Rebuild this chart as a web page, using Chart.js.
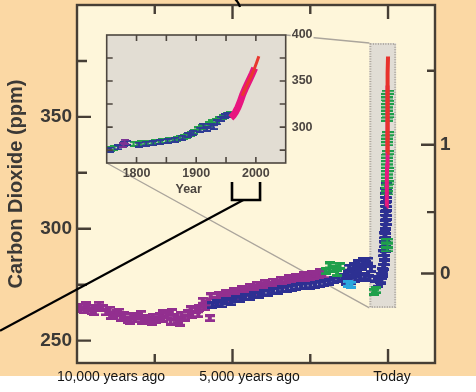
<!DOCTYPE html>
<html>
<head>
<meta charset="utf-8">
<script src="https://cdn.jsdelivr.net/npm/chart.js@4/dist/chart.umd.min.js"></script>
<style>
html,body{margin:0;padding:0;background:#ffffff;}
#wrap{position:relative;width:476px;height:392px;overflow:hidden;}
#wrap canvas{position:absolute;left:0;top:0;}
</style>
</head>
<body>
<div id="wrap">
<canvas id="main" width="476" height="392"></canvas>
<canvas id="inset" width="476" height="392"></canvas>
</div>
<script>
// ---------------- DATA ----------------
// Main panel: x = years relative to today (negative = ago), y = CO2 ppm
const xTickLabels = ['10,000 years ago', '5,000 years ago', 'Today'];
const xTickValues = [-10000, -5000, 0];
const xMajorMarks = [-5000, 0];
const xMinorMarks = [-7500, -2500];
const yTickValues = [250, 300, 350];
const yMinorMarks = [275, 325, 375];
const forcingTickValues = [0, 1];        // radiative forcing (right axis)
const forcingMinorValues = [0.5, 1.5];

const purpleYearsAgo = [-9990,-9880,-9760,-9640,-9520,-9400,-9290,-9180,-9060,-8950,-8830,-8720,-8600,-8490,-8370,-8260,-8140,-8030,-7910,-7800,-7680,-7570,-7450,-7340,-7220,-7110,-6990,-6880,-6760,-6650,-6530,-6420,-6300,-6190,-6070,-5960,-5840,-5730,-5610,-5500,-5380,-5270,-5150,-5040,-4920,-4810,-4690,-4580,-4460,-4350,-4230,-4120,-4000,-3890,-3770,-3660,-3540,-3430,-3310,-3200,-3080,-2970,-2850,-2740,-2620,-2510,-2390,-2280,-2160,-2050];
const purplePpm = [264.0,265.2,263.6,264.8,263.2,264.4,266.0,264.6,262.6,263.8,261.4,262.4,260.2,261.6,259.4,260.8,259.6,261.0,258.8,260.2,259.0,260.6,259.4,261.2,259.8,261.4,258.4,260.4,259.2,261.6,260.2,262.4,261.4,263.6,264.8,267.8,266.2,260.0,268.2,266.8,269.0,268.0,270.2,269.2,271.0,270.0,272.0,271.2,272.8,271.8,273.6,272.8,274.4,273.6,275.0,274.2,275.8,275.0,276.6,275.8,277.2,276.6,278.0,277.2,278.6,278.0,279.2,278.6,279.8,279.2];
// spread of the purple band (upper / lower edges of the scatter)
const purpleSpreadYearsAgo = [-9700,-9450,-8900,-8650,-8300,-7950,-7600,-7250,-6950,-6700,-6350,-6100,-5900,-5700,-5450,-5200,-4950,-4700,-4450,-4200,-3950,-3700,-3450,-3200,-2950,-2700,-2450,-2200];
const purpleSpreadPpm = [265.8,262.6,261.0,263.0,258.6,262.0,258.2,262.2,262.8,258.0,264.0,261.8,265.0,269.8,270.4,271.4,272.2,273.2,274.0,275.0,275.8,276.4,277.2,278.0,278.6,279.2,280.0,280.6];

const blueYearsAgo = [-5650,-5500,-5350,-5200,-5050,-4900,-4750,-4600,-4450,-4300,-4150,-4000,-3850,-3700,-3550,-3400,-3250,-3100,-2950,-2800,-2650,-2500,-2350,-2200,-2050,-1900,-1750,-1600,-1450,-1300,-1150,-1000,-850,-700,-550,-420,-320,-230,-150,-1350,-1200,-1050,-900,-750,-600,-1250,-1100,-950,-800,-650];
const bluePpm = [265.8,266.6,266.2,267.6,267.2,268.6,268.4,269.6,269.4,270.6,270.4,271.4,271.4,272.2,272.4,273.0,273.2,273.6,274.0,274.2,274.6,274.6,275.0,275.2,275.6,276.2,277.0,277.6,278.4,279.6,280.6,281.6,283.0,284.4,282.0,277.6,275.4,276.8,280.0,276.4,276.8,277.4,278.2,278.8,277.8,282.6,283.4,284.6,285.4,285.8];

const greenYearsAgo = [-2000,-1880,-1760,-1640,-1560,-450,-400];
const greenPpm = [281.0,283.6,282.2,280.2,283.4,271.8,272.5];

const cyanYearsAgo = [-1300,-1180];
const cyanPpm = [275.4,275.0];

const spikeBlueYearsAgo = [-230,-200,-170,-140,-120,-100,-130,-90,-110,-80,-100,-70,-95,-65,-90,-60,-85,-55,-80,-50,-75,-45];
const spikeBluePpm = [277.0,279.0,281.0,283.0,285.0,287.0,289.0,291.0,293.0,295.0,297.0,299.0,301.0,303.0,305.0,307.0,309.0,311.0,313.0,315.0,317.0,319.0];

const spikeGreenYearsAgo = [-30,-18,-26,-40,-22,-34,-16,-28,-20,-32,-14,-26,-18,-30,-22,-12,-28,-20,-32,-16,-24,-14,-28,-18,-26,-12,-22,-30,-16];
const spikeGreenPpm = [290.6,292.6,294.6,316.0,317.5,319.0,320.5,322.0,323.5,325.0,326.5,328.0,329.5,331.0,332.5,334.0,338.0,339.5,341.0,342.5,349.0,350.5,352.0,353.5,355.0,356.5,358.0,359.5,361.0];

// Modern direct measurements (calendar years)
const todayYear = 2005;
const pinkYears = [1958,1962,1966,1970,1974,1978,1982,1986,1990,1994,1998];
const pinkPpm   = [310.0,312.5,316.5,321.5,328.0,335.5,341.5,347.0,352.5,358.0,364.0];
const redYears  = [1977,1981,1985,1989,1993,1997,2001,2005];
const redPpm    = [334.0,340.0,345.5,351.0,356.5,362.5,369.5,377.0];

// Inset panel (calendar years)
const insetXTickLabels = [1800, 1900, 2000];
const insetXMarks = [1800, 1850, 1900, 1950, 2000];
const insetYTickLabels = [300, 350, 400];
const insetYMarks = [275, 300, 325, 350, 375];

const insetGreenYears = [1751,1757,1763,1795,1801,1807,1813,1819,1825,1831,1837,1843,1849,1855,1861,1867,1873,1879,1885,1891,1897,1903,1909,1915,1921,1927,1933,1939,1945,1951,1956];
const insetGreenPpm = [275.5,276.4,277.2,281.8,281.4,282.4,281.8,283.0,282.6,283.6,283.4,284.6,284.8,285.8,286.4,287.4,288.4,289.6,290.8,292.6,294.8,297.4,299.6,301.4,303.2,305.0,306.8,308.8,310.8,312.8,314.6];
const insetBlueYears = [1750,1756,1769,1779,1784,1804,1816,1828,1840,1852,1864,1877,1887,1895,1906,1912,1918,1924,1929,1935,1941,1948,1954];
const insetBluePpm = [274.8,275.6,278.0,281.8,282.8,281.0,282.0,282.4,283.8,285.0,286.2,288.6,291.4,293.8,297.2,301.4,298.2,301.0,300.0,305.2,309.0,311.6,313.6];
const insetPurpleYears = [1778,1780];
const insetPurplePpm = [280.5,284.0];

// ---------------- STYLE ----------------
const FONT = '"Liberation Sans", Arial, Helvetica, sans-serif';
const ORANGE = '#FBD8A4';
const CREAM = '#FEF6DA';
const INSET_BG = '#E2DDD3';
const AXIS = '#463E35';
const LABEL = '#3B3936';
const INSET_TEXT = '#4B4540';
const C0 = 280, FK = 5.35;           // forcing = FK * ln(C / C0)
const forcingToPpm = f => C0 * Math.exp(f / FK);
const xLabelNudge = [34, 17, 4];
const zoomBox = {x0: -600, x1: 260, y0: 264.6, y1: 383};
const bracketYears = [1960, 2007];
const bracketLineYear = 1979;
const bracketLineSlope = 0.537;

Chart.defaults.font.family = FONT;
Chart.defaults.animation = false;

function marker(color, w, h, stem, bar) {
  const c = document.createElement('canvas');
  c.width = w; c.height = h;
  const g = c.getContext('2d');
  g.fillStyle = color;
  g.fillRect(0, 0, w, bar);
  g.fillRect(0, h - bar, w, bar);
  g.fillRect(Math.round((w - stem) / 2), 0, stem, h);
  return c;
}
const pts = (xs, ys, off) => xs.map((x, i) => ({x: x + (off || 0), y: ys[i]}));
const zeroPad = s => { s.paddingTop = 0; s.paddingBottom = 0; s.paddingLeft = 0; s.paddingRight = 0; };

const mPurple = marker('#922F8F', 10, 8, 4, 3);
const mBlue = marker('#2D3092', 10, 8, 4, 3);
const mGreen = marker('#1F9F4B', 10, 8, 4, 3);
const mCyan = marker('#2AA7DF', 10, 8, 4, 3);
const mSpikeGreen = marker('#1F9F4B', 12, 5, 2, 2);
const mSpikeBlue = marker('#2D3092', 11, 8, 5, 3);
const iGreen = marker('#22A04C', 8, 6, 2, 2);
const iBlue = marker('#2E3B94', 8, 6, 2, 2);
const iPurple = marker('#7B3294', 8, 6, 2, 2);

// ---------------- INSET CHART ----------------
const insetDeco = {
  id: 'insetDeco',
  beforeDraw(c) {
    const a = c.chartArea, g = c.ctx;
    g.save(); g.fillStyle = INSET_BG;
    g.fillRect(a.left, a.top, a.right - a.left, a.bottom - a.top);
    g.restore();
  },
  afterDatasetsDraw(c) {
    const a = c.chartArea, g = c.ctx, sx = c.scales.x, sy = c.scales.y;
    g.save();
    g.strokeStyle = '#4D463F'; g.lineWidth = 1.6;
    g.strokeRect(a.left, a.top, a.right - a.left, a.bottom - a.top);
    g.beginPath();
    insetXMarks.forEach(v => { const p = sx.getPixelForValue(v);
      g.moveTo(p, a.top); g.lineTo(p, a.top + 6); g.moveTo(p, a.bottom); g.lineTo(p, a.bottom - 6); });
    insetYMarks.forEach(v => { const p = sy.getPixelForValue(v);
      g.moveTo(a.left, p); g.lineTo(a.left + 6, p); g.moveTo(a.right, p); g.lineTo(a.right - 6, p); });
    g.stroke();
    g.fillStyle = INSET_TEXT; g.font = 'bold 12.5px ' + FONT;
    g.textAlign = 'center'; g.textBaseline = 'middle';
    g.fillText('Year', (a.left + a.right) / 2 - 7.5, a.bottom + 26.5);
    // bracket and pointer line
    const b0 = sx.getPixelForValue(bracketYears[0]), b1 = sx.getPixelForValue(bracketYears[1]);
    const bt = a.bottom + 19, bb = a.bottom + 37;
    g.strokeStyle = '#000'; g.lineWidth = 2.6; g.lineJoin = 'miter';
    g.beginPath(); g.moveTo(b0, bt); g.lineTo(b0, bb); g.lineTo(b1, bb); g.lineTo(b1, bt); g.stroke();
    const lx = sx.getPixelForValue(bracketLineYear);
    g.lineWidth = 2.2;
    g.beginPath(); g.moveTo(lx, bb); g.lineTo(0, bb + lx * bracketLineSlope); g.stroke();
    g.beginPath(); g.moveTo(235, -1); g.quadraticCurveTo(238.5, 2, 240, 7); g.stroke();
    g.restore();
  }
};

const insetChart = new Chart(document.getElementById('inset'), {
  type: 'scatter',
  data: { datasets: [
    {data: pts(redYears, redPpm), showLine: true, borderColor: '#E8382E', borderWidth: 3, pointRadius: 0, order: 1},
    {data: pts(pinkYears, pinkPpm), showLine: true, borderColor: '#E8157F', borderWidth: 7, pointRadius: 0, order: 2},
    {data: pts(insetPurpleYears, insetPurplePpm), pointStyle: iPurple, pointRadius: 3, order: 3},
    {data: pts(insetBlueYears, insetBluePpm), pointStyle: iBlue, pointRadius: 3, order: 4},
    {data: pts(insetGreenYears, insetGreenPpm), pointStyle: iGreen, pointRadius: 3, order: 5}
  ]},
  options: {
    responsive: false, maintainAspectRatio: false, events: [],
    layout: {padding: {top: 35, left: 0, right: 0, bottom: 0}},
    plugins: {legend: {display: false}, tooltip: {enabled: false}},
    scales: {
      x: {type: 'linear', min: 1750, max: 2050, position: 'bottom',
          grid: {display: false, drawTicks: false}, border: {display: false},
          afterBuildTicks: s => { s.ticks = insetXTickLabels.map(v => ({value: v})); },
          ticks: {padding: 3, autoSkip: false, maxRotation: 0, color: INSET_TEXT,
                  font: {size: 12.5, weight: 'bold'}, callback: v => String(v)},
          afterFit: s => { s.height = 392 - 163; zeroPad(s); }},
      y: {type: 'linear', min: 261, max: 400, position: 'left',
          grid: {display: false, drawTicks: false}, border: {display: false},
          ticks: {display: false},
          afterFit: s => { s.width = 106.7; zeroPad(s); }},
      y2: {type: 'linear', min: 261, max: 400, position: 'right',
          grid: {display: false, drawTicks: false}, border: {display: false},
          afterBuildTicks: s => { s.ticks = insetYTickLabels.map(v => ({value: v})); },
          ticks: {padding: 6, autoSkip: false, color: INSET_TEXT, font: {size: 12.5, weight: 'bold'},
                  showLabelBackdrop: true, backdropColor: CREAM, backdropPadding: 1,
                  callback: v => String(v)},
          afterFit: s => { s.width = 476 - 285.7; zeroPad(s); }}
    }
  },
  plugins: [insetDeco]
});

// ---------------- MAIN CHART ----------------
const mainDeco = {
  id: 'mainDeco',
  beforeDraw(c) {
    const g = c.ctx, a = c.chartArea;
    g.save();
    g.fillStyle = '#ffffff'; g.fillRect(0, 0, c.width, c.height);
    g.fillStyle = ORANGE; g.fillRect(0, 0, c.width, 376);
    g.fillStyle = CREAM; g.fillRect(a.left, a.top, a.right - a.left, a.bottom - a.top);
    g.restore();
  },
  beforeDatasetsDraw(c) {
    const g = c.ctx, sx = c.scales.x, sy = c.scales.y, ia = insetChart.chartArea;
    const x0 = sx.getPixelForValue(zoomBox.x0), x1 = sx.getPixelForValue(zoomBox.x1);
    const yT = sy.getPixelForValue(zoomBox.y1), yB = sy.getPixelForValue(zoomBox.y0);
    g.save();
    g.strokeStyle = '#ABA59C'; g.lineWidth = 1.4;
    g.beginPath();
    g.moveTo(ia.right, ia.top); g.lineTo(x0, yT);
    g.moveTo(ia.left, ia.bottom); g.lineTo(x0, yB);
    g.stroke();
    g.fillStyle = '#E1DDD5'; g.fillRect(x0, yT, x1 - x0, yB - yT);
    g.setLineDash([1, 1.5]); g.strokeStyle = '#ACA69D'; g.lineWidth = 2;
    g.strokeRect(x0 + 1, yT + 1, x1 - x0 - 2, yB - yT - 2);
    g.restore();
  },
  afterDatasetsDraw(c) {
    const g = c.ctx, a = c.chartArea, sx = c.scales.x, sy = c.scales.y;
    g.save();
    g.strokeStyle = AXIS; g.lineWidth = 2.4; g.lineCap = 'butt';
    g.strokeRect(a.left, a.top, a.right - a.left, a.bottom - a.top);
    g.beginPath();
    const hx = (v, len) => { const p = sx.getPixelForValue(v);
      g.moveTo(p, a.bottom); g.lineTo(p, a.bottom - len); g.moveTo(p, a.top); g.lineTo(p, a.top + len); };
    xMajorMarks.forEach(v => hx(v, 14)); xMinorMarks.forEach(v => hx(v, 9));
    const vl = (v, len) => { const p = sy.getPixelForValue(v); g.moveTo(a.left, p); g.lineTo(a.left + len, p); };
    yTickValues.forEach(v => vl(v, 14)); yMinorMarks.forEach(v => vl(v, 10));
    const vr = (f, len) => { const p = sy.getPixelForValue(forcingToPpm(f)); g.moveTo(a.right, p); g.lineTo(a.right - len, p); };
    forcingTickValues.forEach(f => vr(f, 14)); forcingMinorValues.forEach(f => vr(f, 8));
    g.stroke();
    g.fillStyle = '#151515'; g.font = '14px ' + FONT;
    g.textAlign = 'center'; g.textBaseline = 'middle';
    xTickValues.forEach((v, i) => g.fillText(xTickLabels[i], sx.getPixelForValue(v) + xLabelNudge[i], 377.5));
    g.restore();
  }
};

const todayOff = -todayYear;
new Chart(document.getElementById('main'), {
  type: 'scatter',
  data: { datasets: [
    {data: pts(redYears, redPpm, todayOff), showLine: true, borderColor: '#E8322C', borderWidth: 4, pointRadius: 0, order: 1},
    {data: pts(pinkYears, pinkPpm, todayOff), showLine: true, borderColor: '#E6197F', borderWidth: 4, pointRadius: 0, order: 2},
    {data: pts(spikeGreenYearsAgo, spikeGreenPpm), pointStyle: mSpikeGreen, pointRadius: 3, order: 3},
    {data: pts(spikeBlueYearsAgo, spikeBluePpm), pointStyle: mSpikeBlue, pointRadius: 3, order: 4},
    {data: pts(cyanYearsAgo, cyanPpm), pointStyle: mCyan, pointRadius: 3, order: 5},
    {data: pts(greenYearsAgo, greenPpm), pointStyle: mGreen, pointRadius: 3, order: 6},
    {data: pts(blueYearsAgo, bluePpm), pointStyle: mBlue, pointRadius: 3, order: 7},
    {data: pts(purpleYearsAgo, purplePpm), pointStyle: mPurple, pointRadius: 3, order: 8},
    {data: pts(purpleSpreadYearsAgo, purpleSpreadPpm), pointStyle: mPurple, pointRadius: 3, order: 9}
  ]},
  options: {
    responsive: false, maintainAspectRatio: false, events: [],
    layout: {padding: {top: 5, left: 0, right: 0, bottom: 0}},
    plugins: {legend: {display: false}, tooltip: {enabled: false}},
    scales: {
      x: {type: 'linear', min: -10000, max: 1510, position: 'bottom',
          grid: {display: false, drawTicks: false}, border: {display: false},
          ticks: {display: false},
          afterFit: s => { s.height = 29; zeroPad(s); }},
      y: {type: 'linear', min: 240, max: 400, position: 'left',
          grid: {display: false, drawTicks: false}, border: {display: false},
          afterBuildTicks: s => { s.ticks = yTickValues.map(v => ({value: v})); },
          ticks: {padding: 5, autoSkip: false, color: LABEL, font: {size: 19, weight: 'bold'}, callback: v => String(v)},
          title: {display: true, text: 'Carbon Dioxide (ppm)', color: LABEL,
                  font: {size: 20, weight: 'bold'}, padding: {top: 4, bottom: 0}},
          afterFit: s => { s.width = 77; zeroPad(s); }},
      y2: {type: 'linear', min: 240, max: 400, position: 'right',
          grid: {display: false, drawTicks: false}, border: {display: false},
          afterBuildTicks: s => { s.ticks = forcingTickValues.map(f => ({value: forcingToPpm(f)})); },
          ticks: {padding: 5, autoSkip: false, color: LABEL, font: {size: 19, weight: 'bold'},
                  callback: (v, i) => String(forcingTickValues[i])},
          afterFit: s => { s.width = 41; zeroPad(s); }}
    }
  },
  plugins: [mainDeco]
});
</script>
</body>
</html>
